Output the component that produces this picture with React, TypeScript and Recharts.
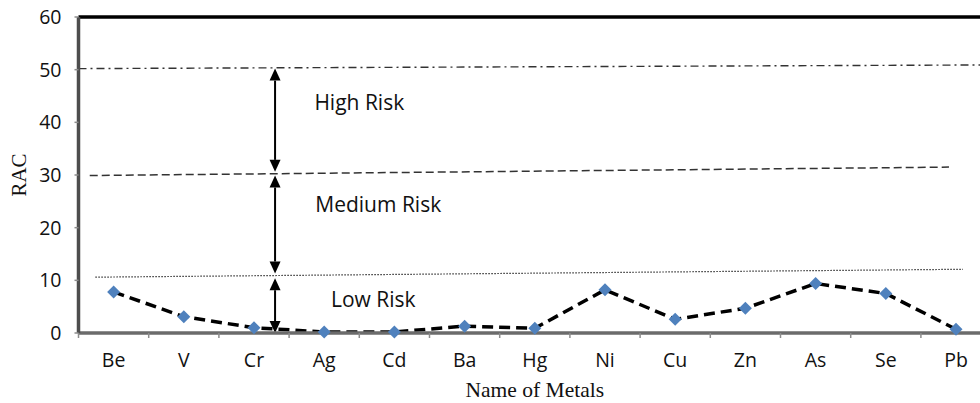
import { LineChart, Line, XAxis, YAxis, ReferenceLine, ReferenceDot } from "recharts";

const metals = ["Be", "V", "Cr", "Ag", "Cd", "Ba", "Hg", "Ni", "Cu", "Zn", "As", "Se", "Pb"];
const racValues = [7.8, 3.1, 1.0, 0.2, 0.2, 1.3, 0.9, 8.2, 2.6, 4.7, 9.4, 7.5, 0.7];
const yTicks = [0, 10, 20, 30, 40, 50, 60];

// threshold lines were hand drawn in the source figure, so they tilt a bit
const highLine = [{ x: -0.5, y: 50.2 }, { x: 12.5, y: 50.9 }];
const mediumLine = [{ x: -0.34, y: 29.9 }, { x: 11.9, y: 31.5 }];
const lowLine = [{ x: -0.26, y: 10.6 }, { x: 12.1, y: 12.1 }];

const arrowX = 2.3;
const arrowSpans = [
  [50.2, 30.6],
  [29.9, 11.3],
  [10.4, 0],
];

const riskLabels = [
  { text: "High Risk", x: 3.5, y: 43.8 },
  { text: "Medium Risk", x: 3.77, y: 24.3 },
  { text: "Low Risk", x: 3.7, y: 6.3 },
];

const data = metals.map((name, i) => ({ idx: i, name, rac: racValues[i] }));
// integer ticks carry the names, half ticks are the small marks between categories
const xTicks = [...metals.flatMap((_, i) => [i - 0.5, i]), metals.length - 0.5];

const sans = "'Open Sans', sans-serif";
const serif = "'Liberation Serif', 'Times New Roman', serif";

function MetalTick({ x, y, payload }: any) {
  const v = payload.value;
  if (!Number.isInteger(v)) {
    return <line x1={x} x2={x} y1={y} y2={y + 5} stroke="#8c8c8c" strokeWidth={1.5} />;
  }
  return (
    <text x={x} y={y + 34} textAnchor="middle" fontFamily={sans} fontSize={19.5} fill="#111">
      {metals[v]}
    </text>
  );
}

function Diamond({ cx, cy, index }: any) {
  const r = 6.5;
  return (
    <polygon
      key={`d-${index}`}
      points={`${cx},${cy - r} ${cx + r},${cy} ${cx},${cy + r} ${cx - r},${cy}`}
      fill="#4F81BD"
    />
  );
}

function Arrow({ x1, y1, x2, y2 }: any) {
  const top = Math.min(y1, y2);
  const bottom = Math.max(y1, y2);
  const h = 12;
  const w = 5.5;
  return (
    <g>
      <line x1={x1} x2={x2} y1={top + h} y2={bottom - h} stroke="#000" strokeWidth={2} />
      <polygon points={`${x1},${top} ${x1 + w},${top + h} ${x1 - w},${top + h}`} fill="#000" />
      <polygon points={`${x1},${bottom} ${x1 + w},${bottom - h} ${x1 - w},${bottom - h}`} fill="#000" />
    </g>
  );
}

export default function App() {
  return (
    <div style={{ position: "absolute", left: 0, top: 0, width: 980, height: 403, overflow: "hidden", background: "#fff" }}>
      <LineChart width={1000} height={403} data={data} margin={{ top: 17, right: 8.9, left: 0, bottom: 0 }}>
        <XAxis
          dataKey="idx"
          type="number"
          domain={[-0.5, 12.5]}
          ticks={xTicks}
          interval={0}
          allowDecimals
          tickLine={false}
          tickSize={0}
          tickMargin={0}
          tick={<MetalTick />}
          height={70}
          axisLine={{ stroke: "#6b6b6b", strokeWidth: 3.5 }}
          label={{
            value: "Name of Metals",
            position: "insideBottom",
            offset: 6,
            style: { fontFamily: serif, fontSize: 21.5, fill: "#111" },
          }}
        />
        <YAxis
          domain={[0, 60]}
          ticks={yTicks}
          width={78.5}
          tickSize={4}
          tickMargin={13}
          tickLine={{ stroke: "#8c8c8c", strokeWidth: 1.5 }}
          axisLine={{ stroke: "#4d4d4d", strokeWidth: 3.5 }}
          tick={{ fill: "#111", fontSize: 19.5, fontFamily: sans }}
          label={{
            value: "RAC",
            angle: -90,
            position: "insideLeft",
            offset: 19,
            style: { textAnchor: "middle", fontFamily: serif, fontSize: 21, fill: "#111" },
          }}
        />
        <ReferenceLine y={60} stroke="#000" strokeWidth={3.5} />
        <ReferenceLine segment={highLine} stroke="#333" strokeWidth={1.4} strokeDasharray="8 4 2 4" />
        <ReferenceLine segment={mediumLine} stroke="#333" strokeWidth={1.5} strokeDasharray="8 4" />
        <ReferenceLine segment={lowLine} stroke="#333" strokeWidth={1.2} strokeDasharray="1.5 1.5" />
        {arrowSpans.map(([a, b], i) => (
          <ReferenceLine
            key={`arrow-${i}`}
            segment={[{ x: arrowX, y: a }, { x: arrowX, y: b }]}
            shape={(p: any) => <Arrow {...p} />}
          />
        ))}
        {riskLabels.map((l) => (
          <ReferenceDot
            key={l.text}
            x={l.x}
            y={l.y}
            r={0}
            stroke="none"
            fill="none"
            label={{ value: l.text, position: "center", style: { fontFamily: sans, fontSize: 21, fill: "#111" } }}
          />
        ))}
        <Line
          dataKey="rac"
          stroke="#000"
          strokeWidth={3.5}
          strokeDasharray="11 6"
          dot={(p: any) => <Diamond key={`d-${p.index}`} {...p} />}
          activeDot={false}
          isAnimationActive={false}
        />
      </LineChart>
    </div>
  );
}
